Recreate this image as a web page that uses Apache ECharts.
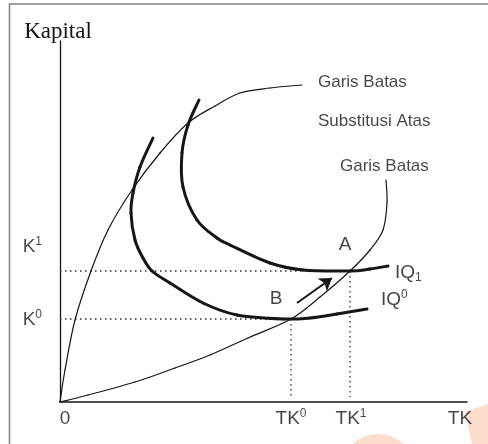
<!DOCTYPE html>
<html>
<head>
<meta charset="utf-8">
<script src="https://cdn.jsdelivr.net/npm/echarts@6/dist/echarts.min.js"></script>
<style>
html,body{margin:0;padding:0;background:#fff;}
#chart{width:488px;height:444px;}
</style>
</head>
<body>
<div id="chart"></div>
<script>
// ---- data (arbitrary conceptual units: labour TK on x, capital K on y) ----
const upperRidge = [[0,0],[0.1,0.7],[0.5,3.2],[1.5,8.2],[3.1,13.1],[4.8,17.2],[7.2,21.2],[10.0,24.9],[12.8,27.9],[15.5,29.6],[18.0,30.9],[21.0,31.4],[24.2,31.7]];
const lowerRidge = [[0,0],[2.8,0.7],[7.5,2.0],[11.5,3.4],[15.0,4.7],[18.8,6.4],[23.1,8.3],[26.0,10.5],[29.0,13.1],[31.0,15.2],[32.3,17.2],[32.7,19.9],[32.6,22.2]];
const iq0 = [[9.3,26.4],[8.0,23.5],[7.3,20.9],[7.1,18.9],[7.5,16.2],[8.3,14.4],[9.2,13.1],[11.0,11.9],[14.3,9.9],[17.7,8.7],[22.3,8.3],[25.0,8.4],[27.7,8.8],[30.7,9.3]];
const iq1 = [[13.9,30.2],[12.8,27.7],[12.2,24.9],[12.3,21.5],[13.7,18.2],[15.7,16.4],[17.0,15.7],[21.0,13.9],[24.3,13.2],[29.0,13.1],[31.0,13.3],[32.8,13.6]];
const kLevels = [8.3, 13.1];      // K0, K1
const tkLevels = [23.1, 29.0];    // TK0, TK1
const moveArrow = [[23.7, 9.9], [27.2, 12.4]];
const xTickValues = [0.5, 23.1, 29.1, 40.0];
const xTickLabels = ['{m|0}', '{m|TK}{sup|0}', '{m|TK}{sup|1}', '{m|TK}'];
const yTickValues = [15.5, 8.2];
const yTickLabels = ['{m|K}{sup|1}', '{m|K}{sup|0}'];
const noteTexts = ['Garis Batas', 'Substitusi Atas', 'Garis Batas'];
const noteAnchors = [[25.8, 32.0], [25.8, 28.1], [28.0, 23.6]];
const pointTexts = ['A', 'B'];
const pointAnchors = [[28.5, 15.7], [21.6, 10.3]];
const curveTexts = ['{m|IQ}{sub|1}', '{m|IQ}{sup|0}'];
const curveAnchors = [[33.5, 12.9], [32.1, 10.2]];

const INK = '#161616';
const FONT = '"Liberation Sans", Arial, sans-serif';
const rich = {
  m: {fontFamily: FONT, fontSize: 19, color: INK, lineHeight: 22},
  sup: {fontFamily: FONT, fontSize: 12, color: INK, verticalAlign: 'top', lineHeight: 22, padding: [0,0,8,0]},
  sub: {fontFamily: FONT, fontSize: 12, color: INK, verticalAlign: 'bottom', lineHeight: 22, padding: [8,0,0,0]}
};

const chart = echarts.init(document.getElementById('chart'), null, {renderer: 'canvas'});

// Catmull-Rom spline through the pixel positions of the data points (rendering only)
function splineChildren(pts, width) {
  const kids = [];
  const n = pts.length;
  for (let i = 0; i < n - 1; i++) {
    const p0 = pts[Math.max(i - 1, 0)], p1 = pts[i], p2 = pts[i + 1], p3 = pts[Math.min(i + 2, n - 1)];
    kids.push({type: 'bezierCurve', shape: {
      x1: p1[0], y1: p1[1], x2: p2[0], y2: p2[1],
      cpx1: p1[0] + (p2[0] - p0[0]) / 6, cpy1: p1[1] + (p2[1] - p0[1]) / 6,
      cpx2: p2[0] - (p3[0] - p1[0]) / 6, cpy2: p2[1] - (p3[1] - p1[1]) / 6},
      style: {stroke: INK, lineWidth: width, fill: null, lineCap: 'round'}});
  }
  return kids;
}
function curve(data, width) {
  return {type: 'custom', coordinateSystem: 'cartesian2d', data: data, silent: true, clip: false, z: 3,
    encode: {x: 0, y: 1},
    renderItem: function (params, api) {
      if (params.dataIndex !== 0) return null;
      return {type: 'group', children: splineChildren(data.map(p => api.coord(p)), width)};
    }};
}
function dotted(data) {
  return {type: 'line', data: data, showSymbol: false, symbol: 'none', silent: true,
    lineStyle: {color: '#333', width: 1.3, type: [1.5, 3.5]}, z: 2};
}
function textSeries(points, texts, labelOpts) {
  return {type: 'scatter', symbolSize: 0, silent: true, clip: false, z: 5,
    data: points.map((p, i) => ({value: p, txt: texts[i]})),
    label: Object.assign({show: true, color: INK, fontFamily: FONT, rich: rich,
      formatter: (p) => p.data.txt}, labelOpts)};
}

chart.setOption({
  animation: false,
  backgroundColor: '#fff',
  grid: {left: 60, right: 21, top: 41, bottom: 42},
  xAxis: {type: 'value', min: 0, max: 40.7,
    axisLine: {show: true, lineStyle: {color: INK, width: 1.5}},
    axisTick: {show: false}, axisLabel: {show: false}, splitLine: {show: false}},
  yAxis: {type: 'value', min: 0, max: 36.1, name: 'Kapital', nameLocation: 'end', nameGap: -2,
    nameTextStyle: {fontFamily: '"Liberation Serif", "DejaVu Serif", serif', fontSize: 23, color: INK, align: 'center', padding: [0,0,0,-4]},
    axisLine: {show: true, lineStyle: {color: INK, width: 1.3}},
    axisTick: {show: false}, axisLabel: {show: false}, splitLine: {show: false}},
  graphic: [
    {type: 'rect', shape: {x: 9.5, y: 4, width: 600, height: 600}, style: {fill: 'none', stroke: '#858585', lineWidth: 1.6}, z: 0},
    {type: 'polygon', shape: {points: [[465,412],[488,404],[488,444],[472,444]]}, style: {fill: '#fcdccb'}, z: 0},
    {type: 'circle', shape: {cx: 378, cy: 471, r: 37}, style: {fill: '#fcdccb'}, z: 0}
  ],
  series: [
    dotted([[0, kLevels[0]], [tkLevels[0], kLevels[0]]]),
    dotted([[0, kLevels[1]], [tkLevels[1], kLevels[1]]]),
    dotted([[tkLevels[0], kLevels[0]], [tkLevels[0], 0.5]]),
    dotted([[tkLevels[1], kLevels[1]], [tkLevels[1], 0.5]]),
    curve(upperRidge, 1.2),
    curve(lowerRidge, 1.2),
    curve(iq0, 3),
    curve(iq1, 3),
    {type: 'lines', coordinateSystem: 'cartesian2d', silent: true, z: 4,
      symbol: ['none', 'arrow'], symbolSize: 12,
      lineStyle: {color: INK, width: 2, opacity: 1},
      data: [{coords: moveArrow}]},
    textSeries(xTickValues.map(v => [v, 0]), xTickLabels, {position: 'bottom', distance: 6}),
    textSeries(yTickValues.map(v => [0, v]), yTickLabels, {position: 'left', distance: 18}),
    textSeries(noteAnchors, noteTexts, {position: 'right', distance: 0, fontSize: 17}),
    textSeries(pointAnchors, pointTexts, {position: 'inside', fontSize: 19}),
    textSeries(curveAnchors, curveTexts, {position: 'right', distance: 0})
  ]
});
</script>
</body>
</html>
